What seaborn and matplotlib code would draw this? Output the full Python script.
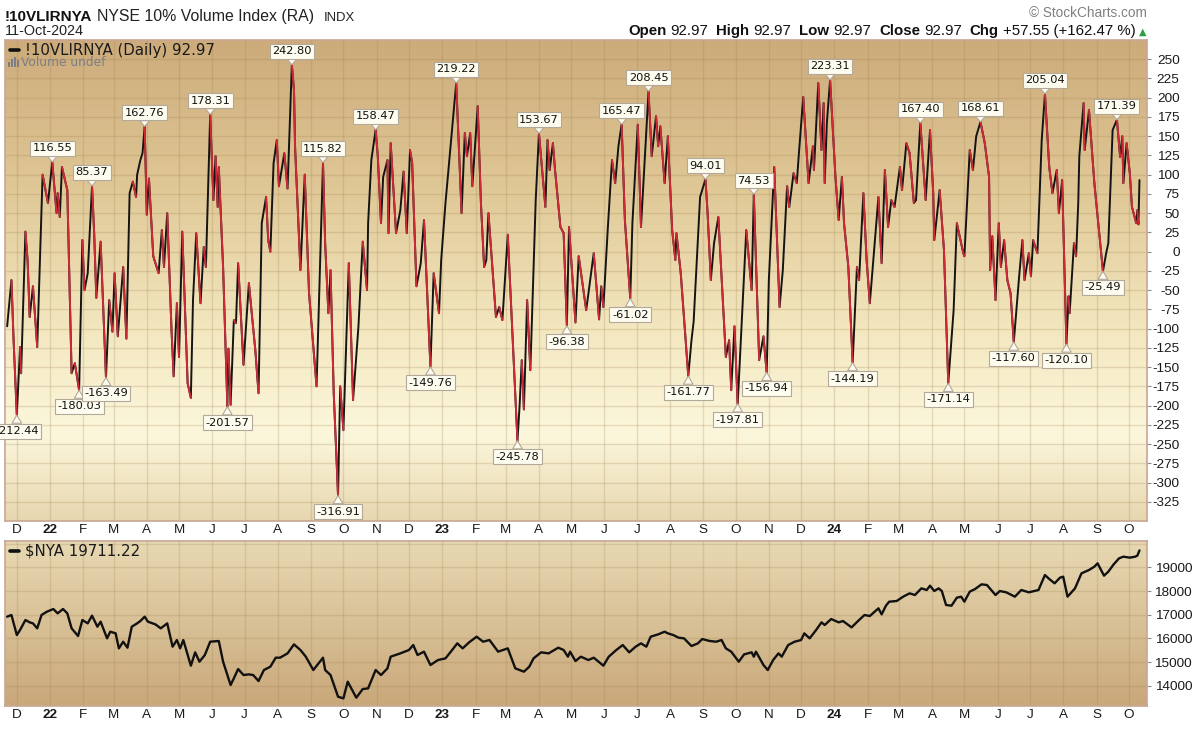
import numpy as np
import pandas as pd
import matplotlib
matplotlib.use("Agg")
import matplotlib.pyplot as plt
import matplotlib.dates as mdates
from matplotlib.collections import LineCollection
from matplotlib.colors import LinearSegmentedColormap
from matplotlib.lines import Line2D
from matplotlib.patches import Rectangle
from matplotlib import font_manager
import seaborn as sns

# !10VLIRNYA turning points
vli_dates = [
    "2021-11-22", "2021-11-26", "2021-11-28", "2021-12-01", "2021-12-04", "2021-12-05", "2021-12-09",
    "2021-12-11", "2021-12-13", "2021-12-16", "2021-12-20", "2021-12-25", "2021-12-30",
    "2022-01-03", "2022-01-07", "2022-01-08", "2022-01-10", "2022-01-12", "2022-01-17", "2022-01-21",
    "2022-01-24", "2022-01-28", "2022-01-31",
    "2022-02-02", "2022-02-05", "2022-02-09", "2022-02-11", "2022-02-13", "2022-02-17", "2022-02-22",
    "2022-02-25", "2022-02-28",
    "2022-03-02", "2022-03-05", "2022-03-10", "2022-03-13", "2022-03-16", "2022-03-19", "2022-03-22",
    "2022-03-23", "2022-03-26", "2022-03-28", "2022-03-30",
    "2022-04-01", "2022-04-03", "2022-04-07", "2022-04-12", "2022-04-15", "2022-04-17", "2022-04-20",
    "2022-04-24", "2022-04-26", "2022-04-29",
    "2022-05-01", "2022-05-04", "2022-05-09", "2022-05-12", "2022-05-14", "2022-05-17", "2022-05-21",
    "2022-05-24", "2022-05-26", "2022-05-30",
    "2022-06-02", "2022-06-04", "2022-06-06", "2022-06-07", "2022-06-11", "2022-06-15", "2022-06-16",
    "2022-06-18", "2022-06-21", "2022-06-23", "2022-06-25", "2022-06-30",
    "2022-07-05", "2022-07-11", "2022-07-14", "2022-07-17", "2022-07-21", "2022-07-23", "2022-07-25",
    "2022-07-28", "2022-07-31",
    "2022-08-02", "2022-08-07", "2022-08-10", "2022-08-14", "2022-08-16", "2022-08-17", "2022-08-22",
    "2022-08-26", "2022-08-30",
    "2022-09-06", "2022-09-12", "2022-09-14", "2022-09-17", "2022-09-19", "2022-09-22", "2022-09-26",
    "2022-09-28",
    "2022-10-01", "2022-10-06", "2022-10-10", "2022-10-15", "2022-10-19", "2022-10-23", "2022-10-24",
    "2022-10-27", "2022-10-31",
    "2022-11-02", "2022-11-05", "2022-11-07", "2022-11-11", "2022-11-12", "2022-11-14", "2022-11-19",
    "2022-11-23", "2022-11-26", "2022-11-29",
    "2022-12-02", "2022-12-04", "2022-12-08", "2022-12-12", "2022-12-15", "2022-12-21", "2022-12-24",
    "2022-12-29", "2022-12-31",
    "2023-01-04", "2023-01-07", "2023-01-14", "2023-01-19", "2023-01-22", "2023-01-24", "2023-01-27",
    "2023-01-29",
    "2023-02-03", "2023-02-06", "2023-02-09", "2023-02-11", "2023-02-13", "2023-02-20", "2023-02-23",
    "2023-02-26",
    "2023-03-03", "2023-03-12", "2023-03-14", "2023-03-16", "2023-03-18", "2023-03-21", "2023-03-24",
    "2023-03-29",
    "2023-04-01", "2023-04-07", "2023-04-09", "2023-04-11", "2023-04-14", "2023-04-16", "2023-04-21",
    "2023-04-24", "2023-04-27", "2023-04-29",
    "2023-05-05", "2023-05-08", "2023-05-15", "2023-05-22", "2023-05-27", "2023-05-29", "2023-05-31",
    "2023-06-04", "2023-06-08", "2023-06-11", "2023-06-14", "2023-06-17", "2023-06-20", "2023-06-25",
    "2023-06-27",
    "2023-07-02", "2023-07-05", "2023-07-12", "2023-07-15", "2023-07-19", "2023-07-21", "2023-07-23",
    "2023-07-27", "2023-07-30",
    "2023-08-03", "2023-08-06", "2023-08-07", "2023-08-11", "2023-08-18", "2023-08-21", "2023-08-23",
    "2023-08-29",
    "2023-09-03", "2023-09-05", "2023-09-08", "2023-09-11", "2023-09-15", "2023-09-22", "2023-09-25",
    "2023-09-27", "2023-09-30",
    "2023-10-03", "2023-10-11", "2023-10-16", "2023-10-18", "2023-10-23", "2023-10-27", "2023-10-30",
    "2023-11-01", "2023-11-06", "2023-11-11", "2023-11-14", "2023-11-18", "2023-11-20", "2023-11-24",
    "2023-11-27", "2023-11-29",
    "2023-12-03", "2023-12-08", "2023-12-12", "2023-12-13", "2023-12-17", "2023-12-20", "2023-12-22",
    "2023-12-23", "2023-12-25", "2023-12-28",
    "2024-01-02", "2024-01-05", "2024-01-08", "2024-01-10", "2024-01-14", "2024-01-18", "2024-01-22",
    "2024-01-24", "2024-01-28", "2024-01-31",
    "2024-02-03", "2024-02-06", "2024-02-11", "2024-02-14", "2024-02-17", "2024-02-20", "2024-02-23",
    "2024-02-26",
    "2024-03-02", "2024-03-04", "2024-03-08", "2024-03-11", "2024-03-15", "2024-03-17", "2024-03-21",
    "2024-03-26", "2024-03-30",
    "2024-04-02", "2024-04-03", "2024-04-08", "2024-04-12", "2024-04-16", "2024-04-21", "2024-04-24",
    "2024-04-30",
    "2024-05-01", "2024-05-06", "2024-05-09", "2024-05-12", "2024-05-16", "2024-05-20", "2024-05-24",
    "2024-05-25", "2024-05-27", "2024-05-30",
    "2024-06-02", "2024-06-04", "2024-06-07", "2024-06-10", "2024-06-13", "2024-06-16", "2024-06-21",
    "2024-06-24", "2024-06-26", "2024-06-30",
    "2024-07-02", "2024-07-04", "2024-07-08", "2024-07-12", "2024-07-15", "2024-07-19", "2024-07-22",
    "2024-07-26", "2024-07-28", "2024-07-31",
    "2024-08-04", "2024-08-06", "2024-08-07", "2024-08-11", "2024-08-13", "2024-08-15", "2024-08-16",
    "2024-08-20", "2024-08-21", "2024-08-25", "2024-08-30",
    "2024-09-07", "2024-09-10", "2024-09-12", "2024-09-16", "2024-09-20", "2024-09-23", "2024-09-25",
    "2024-09-26", "2024-09-29",
    "2024-10-02", "2024-10-04", "2024-10-08", "2024-10-09", "2024-10-10", "2024-10-11",
]
vli_values = [
    -97, -37, -115, -212.44, -124, -158, 26,
    -11, -85, -45, -124, 100, 63,
    116.55, 50, 76, 45, 110, 80, -158,
    -145, -180.03, 15,
    -50, -28, 85.37, 24, -60, 13, -163.49,
    -63, -104,
    -28, -110, -20, -113, 76, 91, 71,
    100, 119, 128, 162.76,
    48, 95, -6, -28, 28, -20, 50,
    -102, -162, -67,
    -137, 26, -171, -190, -63, 24, -67,
    6, -20, 178.31,
    67, 124, 58, 110, -20, -201.57, -126,
    -199, -89, -93, -15, -147,
    -41, -128, -184, 37, 71, 15, 0,
    115, 145,
    85, 128, 82, 242.80, 210, 136, -24,
    100, -54,
    -175, 115.82, 11, -80, -24, -184, -316.91,
    -175,
    -232, -15, -193, -97, 13, -50, 37,
    119, 158.47,
    124, 37, 97, 119, 24, 141, 24,
    54, 104, 24,
    132, 115, -45, -15, 41, -149.76, -28,
    -80, -11,
    63, 110, 219.22, 50, 154, 124, 154,
    85,
    189, 63, -20, -11, 50, -85, -72,
    -89,
    22, -245.78, -200, -141, -205, -63, -154,
    67,
    153.67, 58, 145, 106, 141, 106, 32,
    24, -96.38, 32,
    -92, -6, -76, -2, -88, -45, -72,
    28, 119, 89, 137, 165.47, 41, -61.02,
    37,
    165, 32, 208.45, 124, 176, 137, 163,
    89, 150,
    28, -11, 24, -28, -161.77, -115, -91,
    71,
    94.01, 50, -37, 11, 45, -137, -115,
    -180, -97,
    -197.81, 28, -50, 74.53, -141, -110, -156.94,
    -37, 110, -72, -24, 85, 58, 102,
    89, 128,
    201, 89, 137, 106, 219, 132, 193,
    89, 167, 223.31,
    97, 41, 97, 37, -20, -144.19, -20,
    -37, 76, -11,
    -67, -15, 71, -15, 106, 32, 67,
    58,
    110, 80, 141, 128, 63, 67, 167.40,
    67, 158,
    76, 15, 80, 2, -171.14, -76, 37,
    -2,
    -6, 132, 106, 150, 168.61, 141, 97,
    -24, 20, -63,
    37, -20, 15, -37, -54, -117.60, -32,
    15, -37, -2,
    -32, 15, -2, 145, 205.04, 110, 76,
    106, 50, 93,
    -120.10, -58, -80, 11, -6, 63, 124,
    193, 132, 184, 89,
    -25.49, -2, 11, 158, 171.39, 123, 150,
    89, 141,
    102, 58, 37, 54, 35.42, 92.97,
]

# labelled turning points
vli_peak_dates = ["2022-01-03", "2022-02-09", "2022-03-30", "2022-05-30", "2022-08-14", "2022-09-12",
                  "2022-10-31", "2023-01-14", "2023-04-01", "2023-06-17", "2023-07-12", "2023-09-03",
                  "2023-10-18", "2023-12-28", "2024-03-21", "2024-05-16", "2024-07-15", "2024-09-20"]
vli_trough_dates = ["2021-12-01", "2022-01-28", "2022-02-22", "2022-06-15", "2022-09-26", "2022-12-21",
                    "2023-03-12", "2023-04-27", "2023-06-25", "2023-08-18", "2023-10-03", "2023-10-30",
                    "2024-01-18", "2024-04-16", "2024-06-16", "2024-08-04", "2024-09-07"]

# $NYA close
nya_dates = [
    "2021-11-22", "2021-11-26", "2021-12-01", "2021-12-04", "2021-12-09", "2021-12-13", "2021-12-16",
    "2021-12-20", "2021-12-24", "2021-12-29",
    "2022-01-04", "2022-01-08", "2022-01-13", "2022-01-17", "2022-01-21", "2022-01-27", "2022-01-31",
    "2022-02-05", "2022-02-09", "2022-02-14", "2022-02-17", "2022-02-23", "2022-02-26",
    "2022-03-03", "2022-03-06", "2022-03-10", "2022-03-14", "2022-03-18", "2022-03-23", "2022-03-26",
    "2022-03-30",
    "2022-04-02", "2022-04-09", "2022-04-14", "2022-04-20", "2022-04-25", "2022-04-29",
    "2022-05-02", "2022-05-05", "2022-05-12", "2022-05-16", "2022-05-20", "2022-05-25", "2022-05-30",
    "2022-06-07", "2022-06-11", "2022-06-18", "2022-06-21", "2022-06-25", "2022-06-30",
    "2022-07-05", "2022-07-09", "2022-07-14", "2022-07-19", "2022-07-25", "2022-07-30",
    "2022-08-03", "2022-08-10", "2022-08-16", "2022-08-22", "2022-08-27",
    "2022-09-03", "2022-09-12", "2022-09-14", "2022-09-19", "2022-09-26",
    "2022-10-01", "2022-10-05", "2022-10-10", "2022-10-13", "2022-10-19", "2022-10-24", "2022-10-31",
    "2022-11-05", "2022-11-11", "2022-11-14", "2022-11-23",
    "2022-12-01", "2022-12-05", "2022-12-09", "2022-12-15", "2022-12-21", "2022-12-28",
    "2023-01-04", "2023-01-09", "2023-01-15", "2023-01-20", "2023-01-26",
    "2023-02-02", "2023-02-08", "2023-02-14", "2023-02-22",
    "2023-03-03", "2023-03-10", "2023-03-18", "2023-03-23", "2023-03-27",
    "2023-04-03", "2023-04-10", "2023-04-19", "2023-04-24", "2023-04-28", "2023-04-30",
    "2023-05-05", "2023-05-10", "2023-05-17", "2023-05-22", "2023-05-31",
    "2023-06-05", "2023-06-12", "2023-06-18", "2023-06-24", "2023-06-30",
    "2023-07-05", "2023-07-10", "2023-07-14", "2023-07-21", "2023-07-27", "2023-07-30",
    "2023-08-04", "2023-08-09", "2023-08-14", "2023-08-21", "2023-08-27", "2023-08-31",
    "2023-09-07", "2023-09-13", "2023-09-18", "2023-09-22", "2023-09-27",
    "2023-10-04", "2023-10-09", "2023-10-16", "2023-10-18", "2023-10-20", "2023-10-27", "2023-10-31",
    "2023-11-05", "2023-11-10", "2023-11-13", "2023-11-19", "2023-11-25",
    "2023-12-01", "2023-12-04", "2023-12-09", "2023-12-15", "2023-12-20", "2023-12-23", "2023-12-29",
    "2024-01-05", "2024-01-09", "2024-01-17", "2024-01-23", "2024-01-29",
    "2024-02-03", "2024-02-11", "2024-02-14", "2024-02-18", "2024-02-21", "2024-02-28",
    "2024-03-05", "2024-03-11", "2024-03-16", "2024-03-22", "2024-03-27", "2024-03-30",
    "2024-04-03", "2024-04-07", "2024-04-10", "2024-04-14", "2024-04-19", "2024-04-24", "2024-04-28",
    "2024-05-01", "2024-05-06", "2024-05-11", "2024-05-17", "2024-05-22", "2024-05-26", "2024-05-30",
    "2024-06-03", "2024-06-09", "2024-06-14", "2024-06-17", "2024-06-23", "2024-06-30",
    "2024-07-05", "2024-07-09", "2024-07-15", "2024-07-19", "2024-07-24", "2024-07-29",
    "2024-08-01", "2024-08-05", "2024-08-07", "2024-08-12", "2024-08-18", "2024-08-25", "2024-08-30",
    "2024-09-02", "2024-09-08", "2024-09-12", "2024-09-17", "2024-09-22", "2024-09-26",
    "2024-10-02", "2024-10-07", "2024-10-09", "2024-10-11",
]
nya_values = [
    16919, 16989, 16146, 16357, 16778, 16680, 16638,
    16427, 16989, 17129,
    17242, 17059, 17242, 17059, 16427, 16104, 16778,
    16638, 16961, 16497, 16708, 16006, 16287,
    16216, 15584, 15865, 15612, 16497, 16638, 16736,
    16919,
    16708, 16596, 16427, 16638, 15654, 15935,
    15584, 15935, 14854, 15416, 15022, 15303, 15865,
    15893, 15022, 14039, 14320, 14713, 14460,
    14488, 14460, 14207, 14671, 14811, 15191,
    15191, 15373, 15752, 15514, 15233,
    14671, 15191, 14671, 14460, 13547,
    13477, 14179, 13758, 13505, 13870, 13898, 14671,
    14460, 14741, 15233, 15373,
    15514, 15724, 15303, 15444, 14882, 15092,
    15162, 15444, 15795, 15584, 15837,
    16076, 15865, 15935, 15444,
    15584, 14741, 14601, 14811, 15162,
    15416, 15373, 15612, 15514, 15233, 15444,
    15050, 15233, 15092, 15191, 14854,
    15233, 15514, 15724, 15416, 15654,
    15795, 15654, 16076, 16174, 16287, 16216,
    16146, 16034, 16006, 15682, 15795, 15977,
    15893, 15865, 15935, 15584, 15444,
    15022, 15331, 15416, 15233, 15444, 14882, 14671,
    15092, 15373, 15233, 15724, 15865,
    15935, 16216, 16006, 16357, 16680, 16568, 16820,
    16680, 16736, 16469, 16736, 16989,
    16947, 17270, 17017, 17382, 17551, 17579,
    17762, 17902, 17832, 18113, 18043, 18225,
    18001, 18113, 18001, 17410, 17382, 17720, 17762,
    17551, 17973, 18085, 18282, 18253, 18043, 17832,
    18001, 17945, 17832, 17762, 18043, 17945,
    18001, 18043, 18675, 18507, 18324, 18563,
    18605, 17762, 17860, 18113, 18745, 18886, 19026,
    19167, 18647, 18816, 19125, 19378, 19448,
    19406, 19448, 19490, 19711.22,
]

vli_ticks = list(range(-325, 251, 25))
nya_ticks = [14000, 15000, 16000, 17000, 18000, 19000]

sns.set_theme(style="white")
plt.rcParams["font.family"] = ["Liberation Sans", "DejaVu Sans"]
plt.rcParams["axes.unicode_minus"] = False

installed = {f.name for f in font_manager.fontManager.ttflist}
narrow = "Liberation Sans Narrow" in installed

W, H = 1200, 733


def px(x):
    return x / W


def py(y):
    return 1 - y / H


fig = plt.figure(figsize=(12, 7.33), dpi=100)
fig.patch.set_facecolor("white")
ax1 = fig.add_axes([px(5), py(521), 1142 / W, 481 / H])
ax2 = fig.add_axes([px(5), py(706), 1142 / W, 165 / H])

vli = pd.DataFrame({"date": pd.to_datetime(vli_dates), "value": vli_values})
nya = pd.DataFrame({"date": pd.to_datetime(nya_dates), "value": nya_values})

# black base line, red on the falling legs
sns.lineplot(data=vli, x="date", y="value", ax=ax1, color="#141414", lw=1.4, zorder=3)
xn = mdates.date2num(vli["date"])
pts = np.column_stack([xn, vli["value"].to_numpy()])
segs = np.stack([pts[:-1], pts[1:]], axis=1)
falling = np.diff(vli["value"].to_numpy()) < 0
ax1.add_collection(LineCollection(segs[falling], colors="#cc2a36", linewidths=1.4,
                                  capstyle="round", zorder=4))

sns.lineplot(data=nya, x="date", y="value", ax=ax2, color="#111111", lw=1.7, zorder=3)

x0, x1 = mdates.date2num(pd.Timestamp("2021-11-20")), mdates.date2num(pd.Timestamp("2024-10-18"))
month_starts = pd.date_range("2021-12-01", "2024-10-01", freq="MS")
month_lbls = [f"{d.year % 100:02d}" if d.month == 1 else "JFMAMJJASOND"[d.month - 1] for d in month_starts]

top_cmap = LinearSegmentedColormap.from_list("top_bg", [(0, "#cdab7b"), (0.3, "#dfc795"), (0.6, "#f3e7bf"),
                                                        (0.82, "#fcf7dc"), (1.0, "#e7d7b0")])
bot_cmap = LinearSegmentedColormap.from_list("bot_bg", [(0, "#e8d9b3"), (1.0, "#c9a87a")])
grad = np.linspace(0, 1, 256).reshape(-1, 1)

for ax, ylim, cmap in [(ax1, (-350, 275), top_cmap), (ax2, (13155, 20108), bot_cmap)]:
    ax.set_xlim(x0, x1)
    ax.set_ylim(*ylim)
    ax.imshow(grad, aspect="auto", cmap=cmap, extent=(x0, x1, ylim[0], ylim[1]), origin="upper", zorder=0)
    ax.set_xlim(x0, x1)
    ax.set_ylim(*ylim)
    ax.set_xlabel("")
    ax.set_ylabel("")
    ax.set_xticks(mdates.date2num(month_starts))
    ax.set_xticklabels(month_lbls)
    for t, d in zip(ax.get_xticklabels(), month_starts):
        if d.month == 1:
            t.set_fontweight("bold")
    ax.yaxis.tick_right()
    ax.tick_params(axis="x", length=0, labelsize=9.7, pad=2.5, labelcolor="#1a1a1a")
    ax.tick_params(axis="y", length=3, width=0.8, color="#8c8c8c", labelsize=9.7, labelcolor="#1a1a1a")
    ax.grid(True, color="#9c7a48", alpha=0.22, lw=1.0)
    ax.set_axisbelow(True)
    for s in ax.spines.values():
        s.set_color("#c7a793")
        s.set_linewidth(1.2)

ax1.set_yticks(vli_ticks, [str(t) for t in vli_ticks], ha="right")
ax1.tick_params(axis="y", pad=20.5)
ax2.set_yticks(nya_ticks, [str(t) for t in nya_ticks], ha="right")
ax2.tick_params(axis="y", pad=29.5)
ax2.axhline(20000, color="#9c7a48", alpha=0.22, lw=1.0, zorder=0.5)

# peak / trough callouts
val_by_date = dict(zip(vli_dates, vli_values))
box = dict(boxstyle="square,pad=0.22", fc="#fdfcef", ec="#b3a99b", lw=0.8)
for dates, dy in [(vli_peak_dates, 9.8), (vli_trough_dates, -11.5)]:
    for d in dates:
        v = val_by_date[d]
        ax1.annotate(f"{v:.2f}", xy=(mdates.date2num(pd.Timestamp(d)), v), xytext=(0, dy),
                     textcoords="offset points", ha="center", va="center", fontsize=8.2,
                     family="DejaVu Sans", color="#111111", bbox=box, zorder=6,
                     annotation_clip=False,
                     arrowprops=dict(arrowstyle="wedge,tail_width=0.85,shrink_factor=0.5",
                                     fc="#fdfcef", ec="#b3a99b", lw=0.8, shrinkA=0, shrinkB=0))

# panel legends
fig.add_artist(Line2D([px(10), px(19)], [py(50), py(50)], color="#111111", lw=2.6, transform=fig.transFigure))
fig.text(px(25), py(50), "!10VLIRNYA (Daily) 92.97", ha="left", va="center", fontsize=10.8,
         family="DejaVu Sans", color="#1a1a1a")
for bx, bh in [(8, 5), (11, 8), (14, 10), (17, 7)]:
    fig.add_artist(Rectangle((px(bx), py(67)), 2 / W, bh / H, transform=fig.transFigure,
                             color="#7d7d85", lw=0))
fig.text(px(21), py(63), "Volume undef", ha="left", va="center", fontsize=8.8,
         family="DejaVu Sans", color="#7d7d85")
fig.add_artist(Line2D([px(10), px(19)], [py(551), py(551)], color="#111111", lw=2.6, transform=fig.transFigure))
fig.text(px(25), py(551), "$NYA 19711.22", ha="left", va="center", fontsize=10.8,
         family="DejaVu Sans", color="#1a1a1a")

# header
renderer = fig.canvas.get_renderer()
if narrow:
    title = fig.text(px(5), py(21), "!10VLIRNYA", ha="left", va="baseline", fontsize=12.8,
                     fontweight="bold", family="Liberation Sans Narrow", color="#111111")
else:
    title = fig.text(px(5), py(21), "!10VLIRNYA", ha="left", va="baseline", fontsize=11,
                     fontweight="bold", color="#111111")
xr = 5 + title.get_window_extent(renderer).width + 5
sub = fig.text(px(xr), py(21), "NYSE 10% Volume Index (RA)", ha="left", va="baseline", fontsize=11.4,
               color="#222222")
xr += sub.get_window_extent(renderer).width + 9
fig.text(px(xr), py(21), "INDX", ha="left", va="baseline", fontsize=9.4, color="#222222")
fig.text(px(5), py(35), "11-Oct-2024", ha="left", va="baseline", fontsize=10.4, color="#222222")
fig.text(px(1147), py(17), "\u00a9 StockCharts.com", ha="right", va="baseline", fontsize=9.8, color="#808080")

ohlc = [("Open", True), ("92.97", False), ("High", True), ("92.97", False), ("Low", True),
        ("92.97", False), ("Close", True), ("92.97", False), ("Chg", True), ("+57.55 (+162.47 %)", False)]
tri = fig.text(px(1146), py(35), "\u25b2", ha="right", va="baseline", fontsize=7, family="DejaVu Sans",
               color="#2e9e3e")
xr = 1146 - tri.get_window_extent(renderer).width - 3
for s, bold in reversed(ohlc):
    t = fig.text(px(xr), py(35), s, ha="right", va="baseline", fontsize=10.8,
                 fontweight="bold" if bold else "normal", color="#111111")
    xr -= t.get_window_extent(renderer).width + (4 if not bold else 8)

fig.savefig("out.png", dpi=100, facecolor="white")
